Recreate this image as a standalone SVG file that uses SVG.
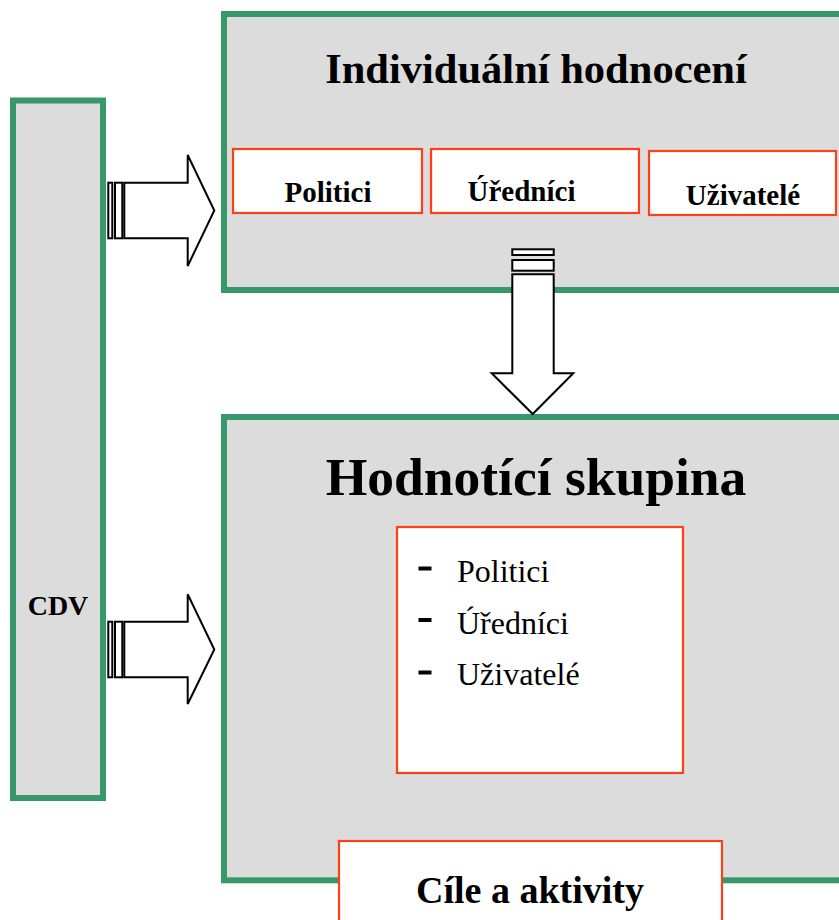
<svg xmlns="http://www.w3.org/2000/svg" width="839" height="920" viewBox="0 0 839 920">
<style>
.panel{fill:#dcdcdc;stroke:#37996a;stroke-width:6}
.box{fill:#ffffff;stroke:#ff4014;stroke-width:2.2}
.arr{fill:#ffffff;stroke:#000000;stroke-width:2;stroke-linejoin:miter}
.b{font-family:"Liberation Serif","Times New Roman",serif;font-weight:bold;fill:#000}
.r{font-family:"Liberation Serif","Times New Roman",serif;fill:#000}
</style>
<rect width="839" height="920" fill="#ffffff"/>
<g id="cdv">
<rect class="panel" x="13" y="100.5" width="90" height="697.5"/>
<text class="b" x="58" y="615" font-size="28" text-anchor="middle">CDV</text>
</g>
<g id="individualni">
<rect class="panel" x="224" y="14" width="625" height="276"/>
<text class="b" x="536" y="83" font-size="42.5" text-anchor="middle">Individuální hodnocení</text>
</g>
<g id="politici">
<rect class="box" x="233" y="149" width="189" height="64"/>
<text class="b" x="328" y="202" font-size="29" text-anchor="middle">Politici</text>
</g>
<g id="urednici">
<rect class="box" x="431" y="149" width="208" height="64"/>
<text class="b" x="521.5" y="201" font-size="29" text-anchor="middle">Úředníci</text>
</g>
<g id="uzivatele">
<rect class="box" x="649" y="151" width="187" height="64"/>
<text class="b" x="743" y="205" font-size="29" text-anchor="middle">Uživatelé</text>
</g>
<g id="hodnotici">
<rect class="panel" x="224" y="417" width="625" height="463.3"/>
<text class="b" x="536" y="495" font-size="53.5" text-anchor="middle">Hodnotící skupina</text>
</g>
<g id="seznam">
<rect class="box" x="397" y="527" width="286" height="246"/>
<rect x="418.5" y="566.5" width="13" height="4" fill="#000"/>
<rect x="418.5" y="618" width="13" height="4" fill="#000"/>
<rect x="418.5" y="670.5" width="13" height="4" fill="#000"/>
<text class="r" x="457" y="582" font-size="32">Politici</text>
<text class="r" x="457" y="633.5" font-size="32">Úředníci</text>
<text class="r" x="457" y="685" font-size="32">Uživatelé</text>
</g>
<g id="cile">
<rect class="box" x="339" y="841" width="383" height="100"/>
<text class="b" x="530" y="903" font-size="38" text-anchor="middle">Cíle a aktivity</text>
</g>
<g id="connectors">
<g id="arrow-top">
<rect class="arr" x="108.3" y="182.7" width="4" height="55.6"/>
<rect class="arr" x="115" y="182.7" width="7.3" height="55.6"/>
<path class="arr" d="M124.3,182.7 H187.7 V155 L214.3,210.5 L187.7,266 V238.3 H124.3 Z"/>
</g>
<g id="arrow-bottom">
<rect class="arr" x="108.3" y="621.7" width="4" height="55.6"/>
<rect class="arr" x="115" y="621.7" width="7.3" height="55.6"/>
<path class="arr" d="M124.3,621.7 H187.7 V594.3 L214.3,649.5 L187.7,704 V677.3 H124.3 Z"/>
</g>
<g id="arrow-down">
<rect class="arr" x="512.3" y="249.3" width="41.4" height="5.7"/>
<rect class="arr" x="512.3" y="260" width="41.4" height="10.7"/>
<path class="arr" d="M512.3,274.3 H553.7 V373.3 H573.3 L532.7,414 L491.7,373.3 H512.3 Z"/>
</g>
</g>
</svg>
